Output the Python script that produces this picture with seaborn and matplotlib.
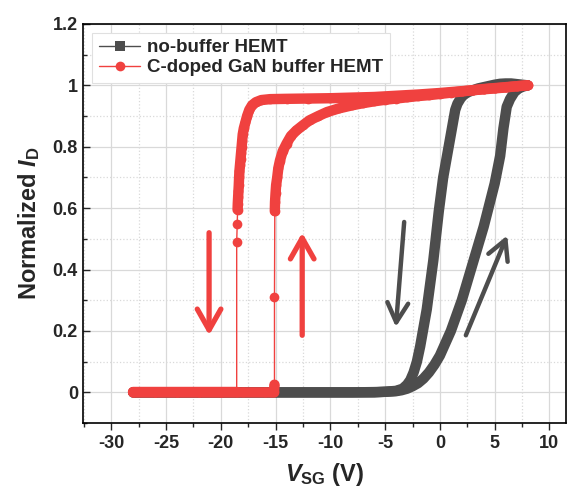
import matplotlib
matplotlib.use('Agg')
import matplotlib.pyplot as plt
import numpy as np
import seaborn as sns
from matplotlib.ticker import MultipleLocator, FormatStrFormatter

# no-buffer HEMT, forward sweep (-28 V -> 8 V)
nb_up_v = [-28, -26, -24, -22, -20, -18, -16, -14, -12, -10, -8, -6, -5, -4, -3.5, -3,
           -2.5, -2, -1.5, -1, -0.5, 0, 0.5, 1, 1.5, 2, 2.5, 3, 3.5, 4, 4.5, 5, 5.5, 5.8,
           6.1, 6.4, 6.8, 7.2, 7.6, 8]
nb_up_i = [0, 0, 0, 0, 0, 0, 0, 0, 0, 0, 0, 0.001, 0.002, 0.004, 0.007, 0.012,
           0.02, 0.03, 0.045, 0.065, 0.09, 0.12, 0.16, 0.2, 0.25, 0.3, 0.36, 0.42, 0.48, 0.54,
           0.61, 0.68, 0.77, 0.86, 0.93, 0.955, 0.978, 0.99, 0.996, 1.0]

# no-buffer HEMT, reverse sweep (8 V -> -28 V)
nb_down_v = [8, 7.5, 7, 6.5, 6, 5.5, 5, 4.5, 4, 3.5, 3, 2.6, 2.2, 1.9, 1.6, 1.4, 1.2, 1.0,
             0.8, 0.55, 0.3, 0.1, -0.1, -0.35, -0.6, -0.9, -1.2, -1.5, -1.8, -2.1, -2.4,
             -2.7, -3.0, -3.4, -4, -5, -6, -8, -10, -12, -14, -16, -18, -20, -22, -24, -26, -28]
nb_down_i = [1.0, 1.002, 1.004, 1.006, 1.006, 1.005, 1.002, 0.998, 0.994, 0.99, 0.984, 0.978,
             0.97, 0.958, 0.94, 0.92, 0.88, 0.84, 0.8, 0.75, 0.7, 0.645, 0.59, 0.51, 0.43,
             0.35, 0.27, 0.21, 0.15, 0.1, 0.065, 0.04, 0.025, 0.012, 0.005, 0.002, 0, 0, 0,
             0, 0, 0, 0, 0, 0, 0, 0, 0]

# C-doped GaN buffer HEMT, forward sweep
cd_up_v = [-28, -26, -24, -22, -20, -18, -16, -15.4, -15.15, -15.1, -15.1, -15.07, -15.05,
           -15.0, -14.95, -14.85, -14.75, -14.6, -14.35, -14.0, -13.6, -13.1, -12.5, -11.9,
           -11.1, -10.3, -9.2, -8, -7, -6, -5, -4, -3, -2, -1, 0, 1, 2, 3, 4, 5, 6, 7, 8]
cd_up_i = [0, 0, 0, 0, 0, 0, 0, 0, 0.0, 0.025, 0.31, 0.59, 0.62,
           0.65, 0.675, 0.7, 0.73, 0.755, 0.785, 0.81, 0.835, 0.853, 0.87, 0.886,
           0.9, 0.913, 0.925, 0.935, 0.942, 0.948, 0.953, 0.957, 0.961, 0.965, 0.968, 0.972,
           0.976, 0.98, 0.984, 0.988, 0.991, 0.994, 0.997, 1.0]

# C-doped GaN buffer HEMT, reverse sweep
cd_down_v = [8, 7, 6, 5, 4, 3, 2, 1, 0, -2, -4, -6, -8, -10, -12, -14, -15.5, -16.3, -16.8,
             -17.15, -17.4, -17.6, -17.75, -17.9, -18.0, -18.05, -18.1, -18.15, -18.2, -18.25,
             -18.3, -18.33, -18.36, -18.39, -18.42, -18.45, -18.47, -18.5, -18.55, -18.55,
             -20, -22, -24, -26, -28]
cd_down_i = [1.0, 0.997, 0.993, 0.99, 0.987, 0.984, 0.981, 0.978, 0.975, 0.97, 0.966, 0.962,
             0.96, 0.958, 0.957, 0.956, 0.955, 0.952, 0.945, 0.935, 0.92, 0.9, 0.88, 0.86,
             0.84, 0.82, 0.8, 0.78, 0.76, 0.74, 0.72, 0.7, 0.675, 0.655, 0.635, 0.615, 0.595,
             0.55, 0.49, 0.0, 0, 0, 0, 0, 0]

# sweep-direction arrows: (tail, head)
arrows_red = [((-21.07, 0.52), (-21.07, 0.186)), ((-12.57, 0.186), (-12.57, 0.52))]
arrows_gray = [((-3.26, 0.555), (-4.02, 0.213)), ((2.37, 0.186), (6.15, 0.511))]

GRAY = '#4d4d4d'
RED = '#f0413f'

sns.set_style('ticks')
plt.rcParams['font.family'] = ['Liberation Sans', 'DejaVu Sans']
plt.rcParams['font.weight'] = 'bold'
plt.rcParams['axes.unicode_minus'] = False
plt.rcParams['mathtext.fontset'] = 'custom'
plt.rcParams['mathtext.rm'] = 'Liberation Sans:bold'
plt.rcParams['mathtext.it'] = 'Liberation Sans:italic:bold'
plt.rcParams['mathtext.bf'] = 'Liberation Sans:bold'


def segments(v, i, gap):
    # split a sweep where the current jumps (sparse points there)
    v = np.asarray(v)
    i = np.asarray(i)
    cuts = np.where(np.abs(np.diff(i)) > gap)[0] + 1
    return [(a, b) for a, b in zip(np.split(v, cuts), np.split(i, cuts)) if len(a) > 1]


fig, ax = plt.subplots(figsize=(5.67, 4.88), dpi=100)
fig.subplots_adjust(left=0.146, right=0.998, top=0.951, bottom=0.133)

# no-buffer: thick band + markers
for v, i in [(nb_up_v, nb_up_i), (nb_down_v, nb_down_i)]:
    sns.lineplot(x=v, y=i, color=GRAY, lw=7.5, sort=False, estimator=None, ax=ax,
                 solid_capstyle='round', solid_joinstyle='round', zorder=2)
sns.lineplot(x=nb_up_v, y=nb_up_i, color=GRAY, lw=1, marker='s', markersize=5,
             markeredgecolor=GRAY, markeredgewidth=0, sort=False, estimator=None,
             ax=ax, zorder=2, label='no-buffer HEMT')
sns.lineplot(x=nb_down_v, y=nb_down_i, color=GRAY, lw=1, marker='s', markersize=5,
             markeredgecolor=GRAY, markeredgewidth=0, sort=False, estimator=None,
             ax=ax, zorder=2)

# C-doped: thick band only where points are dense
for v, i in [(cd_up_v, cd_up_i), (cd_down_v, cd_down_i)]:
    for sv, si in segments(v, i, 0.04):
        sns.lineplot(x=sv, y=si, color=RED, lw=7.5, sort=False, estimator=None, ax=ax,
                     solid_capstyle='round', solid_joinstyle='round', zorder=3)
sns.lineplot(x=cd_up_v, y=cd_up_i, color=RED, lw=1, marker='o', markersize=7,
             markeredgecolor=RED, markeredgewidth=0, sort=False, estimator=None,
             ax=ax, zorder=3, label='C-doped GaN buffer HEMT')
sns.lineplot(x=cd_down_v, y=cd_down_i, color=RED, lw=1, marker='o', markersize=7,
             markeredgecolor=RED, markeredgewidth=0, sort=False, estimator=None,
             ax=ax, zorder=3)

for (t, h) in arrows_red:
    ax.annotate('', xy=h, xytext=t,
                arrowprops=dict(arrowstyle='->,head_length=1.5,head_width=0.85',
                                color=RED, lw=3.8, shrinkA=0, shrinkB=0))
for (t, h) in arrows_gray:
    ax.annotate('', xy=h, xytext=t,
                arrowprops=dict(arrowstyle='->,head_length=1.4,head_width=0.75',
                                color=GRAY, lw=3.2, shrinkA=0, shrinkB=0))

ax.set_xlim(-32.6, 11.5)
ax.set_ylim(-0.1, 1.2)
ax.xaxis.set_major_locator(MultipleLocator(5))
ax.xaxis.set_minor_locator(MultipleLocator(2.5))
ax.yaxis.set_major_locator(MultipleLocator(0.2))
ax.yaxis.set_minor_locator(MultipleLocator(0.1))
ax.yaxis.set_major_formatter(FormatStrFormatter('%g'))

ax.grid(which='major', color='#d9d9d9', lw=0.9, ls='-')
ax.grid(which='minor', color='#d9d9d9', lw=0.9, ls=':')
ax.set_axisbelow(True)

ax.tick_params(axis='x', which='both', direction='out', labelsize=13, width=1)
ax.tick_params(axis='y', which='both', direction='in', labelsize=13, width=1)
ax.tick_params(which='major', length=5)
ax.tick_params(which='minor', length=3)
for s in ax.spines.values():
    s.set_color('black')
    s.set_linewidth(1.2)

ax.set_xlabel(r'$V_\mathrm{SG}$ (V)', fontsize=17, fontweight='bold', labelpad=6.5)
ax.set_ylabel(r'Normalized $I_\mathrm{D}$', fontsize=17, fontweight='bold', labelpad=7.5)

leg = ax.legend(loc='upper left', bbox_to_anchor=(0.02, 0.978), borderaxespad=0,
                fontsize=13.5, frameon=True, fancybox=False, framealpha=1,
                edgecolor='#e0e0e0', handlelength=2.2, handletextpad=0.35,
                labelspacing=0.15, borderpad=0.35)
leg.get_frame().set_linewidth(0.8)
leg.legend_handles[0].set_markersize(6.5)

fig.savefig('out.png', dpi=100)
